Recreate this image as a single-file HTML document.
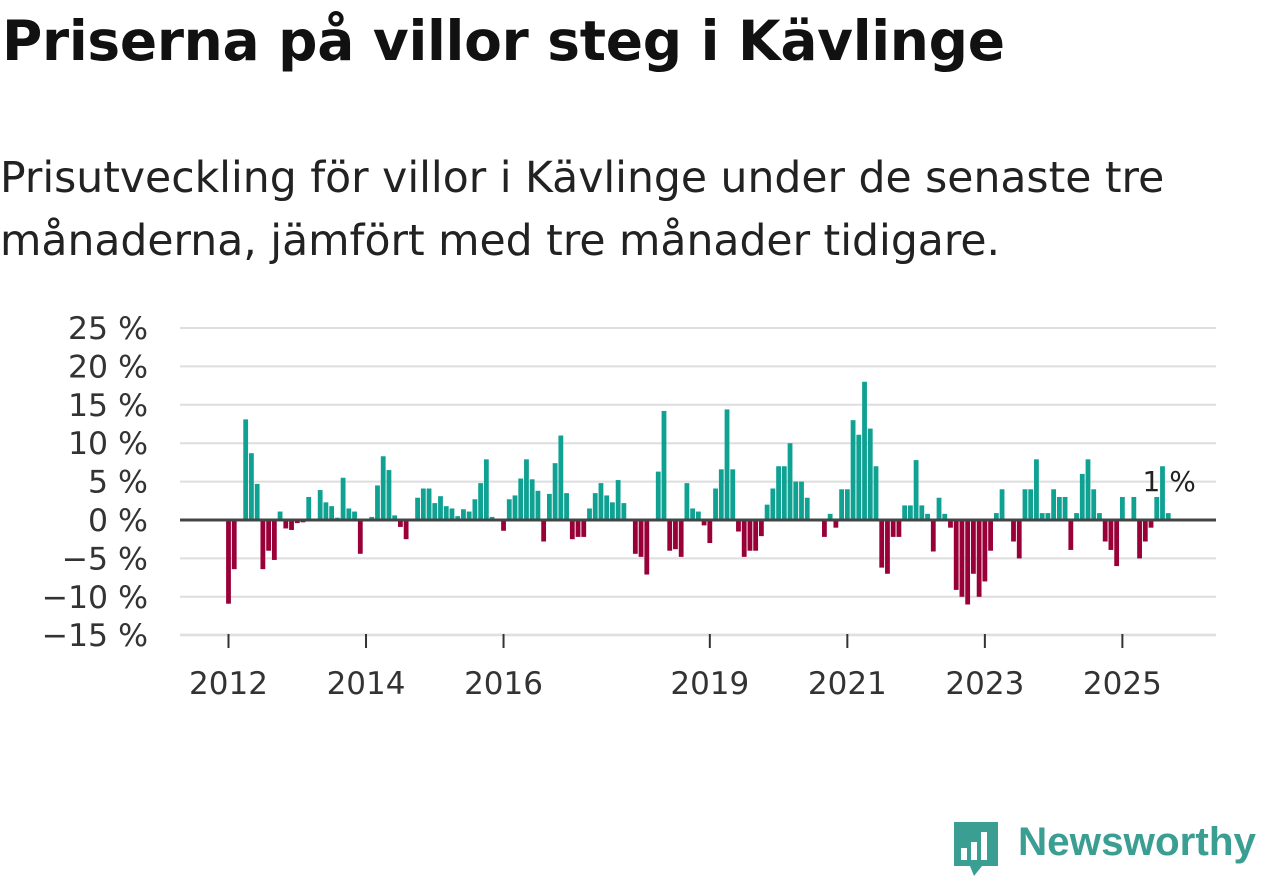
<!DOCTYPE html>
<html><head><meta charset="utf-8">
<style>
body{margin:0;width:1262px;height:879px;background:#fff;font-family:"DejaVu Sans","Liberation Sans",sans-serif;overflow:hidden;position:relative}
h1{position:absolute;left:2px;top:9px;margin:0;font-size:55px;font-weight:bold;color:#111;white-space:nowrap;letter-spacing:-0.3px}
.sub{position:absolute;left:0px;top:147px;margin:0;font-size:42.5px;line-height:63px;color:#222;white-space:nowrap}
svg{position:absolute;left:0;top:0}
</style></head><body>
<h1>Priserna på villor steg i Kävlinge</h1>
<p class="sub">Prisutveckling för villor i Kävlinge under de senaste tre<br>månaderna, jämfört med tre månader tidigare.</p>
<svg id="chart" width="1262" height="879"></svg>
<div style="position:absolute;left:950px;top:818px;">
<svg width="52" height="62" style="position:absolute;left:0;top:0">
<path d="M4 4 H48 V48 H32 L24 58 L20 48 H4 Z" fill="#3a9e93"/>
<rect x="11" y="30" width="6" height="12" fill="#fff"/><rect x="21" y="24" width="6" height="18" fill="#fff"/><rect x="31" y="14" width="6" height="28" fill="#fff"/>
</svg>
<span style="position:absolute;left:68px;top:2px;font-family:'Liberation Sans',sans-serif;font-size:40px;font-weight:bold;color:#3a9e93;white-space:nowrap;display:inline-block;transform:scaleX(1.01);transform-origin:left">Newsworthy</span>
</div>
<script>
const values=[-10.9,-6.4,0,13.1,8.7,4.7,-6.4,-4,-5.2,1.1,-1.1,-1.3,-0.4,-0.3,3,0,3.9,2.3,1.8,0.3,5.5,1.5,1.1,-4.4,
0,0.4,4.5,8.3,6.5,0.6,-0.9,-2.5,0,2.9,4.1,4.1,2.2,3.1,1.8,1.5,0.5,1.4,1.1,2.7,4.8,7.9,0.4,0,
-1.4,2.7,3.2,5.4,7.9,5.3,3.8,-2.8,3.4,7.4,11,3.5,-2.5,-2.2,-2.2,1.5,3.5,4.8,3.2,2.3,5.2,2.2,0,-4.4,
-4.8,-7.1,0,6.3,14.2,-4,-3.8,-4.8,4.8,1.5,1.1,-0.7,-3,4.1,6.6,14.4,6.6,-1.5,-4.8,-4,-4,-2.1,2,4.1,
7,7,10,5,5,2.9,0,0,-2.2,0.8,-1,4,4,13,11.1,18,11.9,7,-6.2,-7,-2.2,-2.2,1.9,1.9,
7.8,1.9,0.8,-4.1,2.9,0.8,-1,-9.1,-10,-11,-7,-10,-8,-4,0.9,4,0,-2.8,-5,4,4,7.9,0.9,0.9,
4,3,3,-3.9,0.9,6,7.9,4,0.9,-2.8,-3.9,-6,3,0,3,-5,-2.8,-1,3,7,0.9];
const yTicks=[25,20,15,10,5,0,-5,-10,-15];
const xTickYears=[2012,2014,2016,2019,2021,2023,2025];
const startYear=2012;
const lastLabel="1 %";
const NS="http://www.w3.org/2000/svg";
const svg=document.getElementById('chart');
const y=v=>520-v*7.68;
const x=i=>228.5+i*5.73;
function mk(t,a){const e=document.createElementNS(NS,t);for(const k in a)e.setAttribute(k,a[k]);svg.appendChild(e);return e;}
yTicks.forEach(t=>{
  if(t!==0){const l=mk('line',{x1:180,x2:1216,y1:y(t),y2:y(t),stroke:'#dedede','stroke-width':2});
  
  }
  const tx=mk('text',{x:148,y:y(t)+11,'text-anchor':'end','font-size':31.5,fill:'#333'});
  tx.textContent=(t<0?'\u2212'+(-t):t)+' %';
  
  
});
const base=mk('line',{x1:180,x2:1216,y1:634,y2:634,stroke:'#e4e4e4','stroke-width':1});


xTickYears.forEach(yr=>{
  const px=x((yr-startYear)*12);
  const tk=mk('line',{x1:px,x2:px,y1:634,y2:648,stroke:'#333','stroke-width':2});
  
  
  const tx=mk('text',{x:px,y:694,'text-anchor':'middle','font-size':31,fill:'#333'});
  tx.textContent=yr;
  
  
});
values.forEach((v,i)=>{
  if(v===0)return;
  const top=Math.min(y(v),y(0)),h=Math.abs(y(v)-y(0));
  const r=mk('rect',{x:x(i)-2.4,y:top,width:4.8,height:h,fill:v>0?'#0fa192':'#990038'});
  
  
});
const zero=mk('line',{x1:180,x2:1216,y1:520,y2:520,stroke:'#444','stroke-width':3});


const lab=mk('text',{x:x(values.length-1)+1,y:y(values[values.length-1])-22,'text-anchor':'middle','font-size':28,fill:'#222'});
lab.textContent=lastLabel;


</script>
</body></html>
